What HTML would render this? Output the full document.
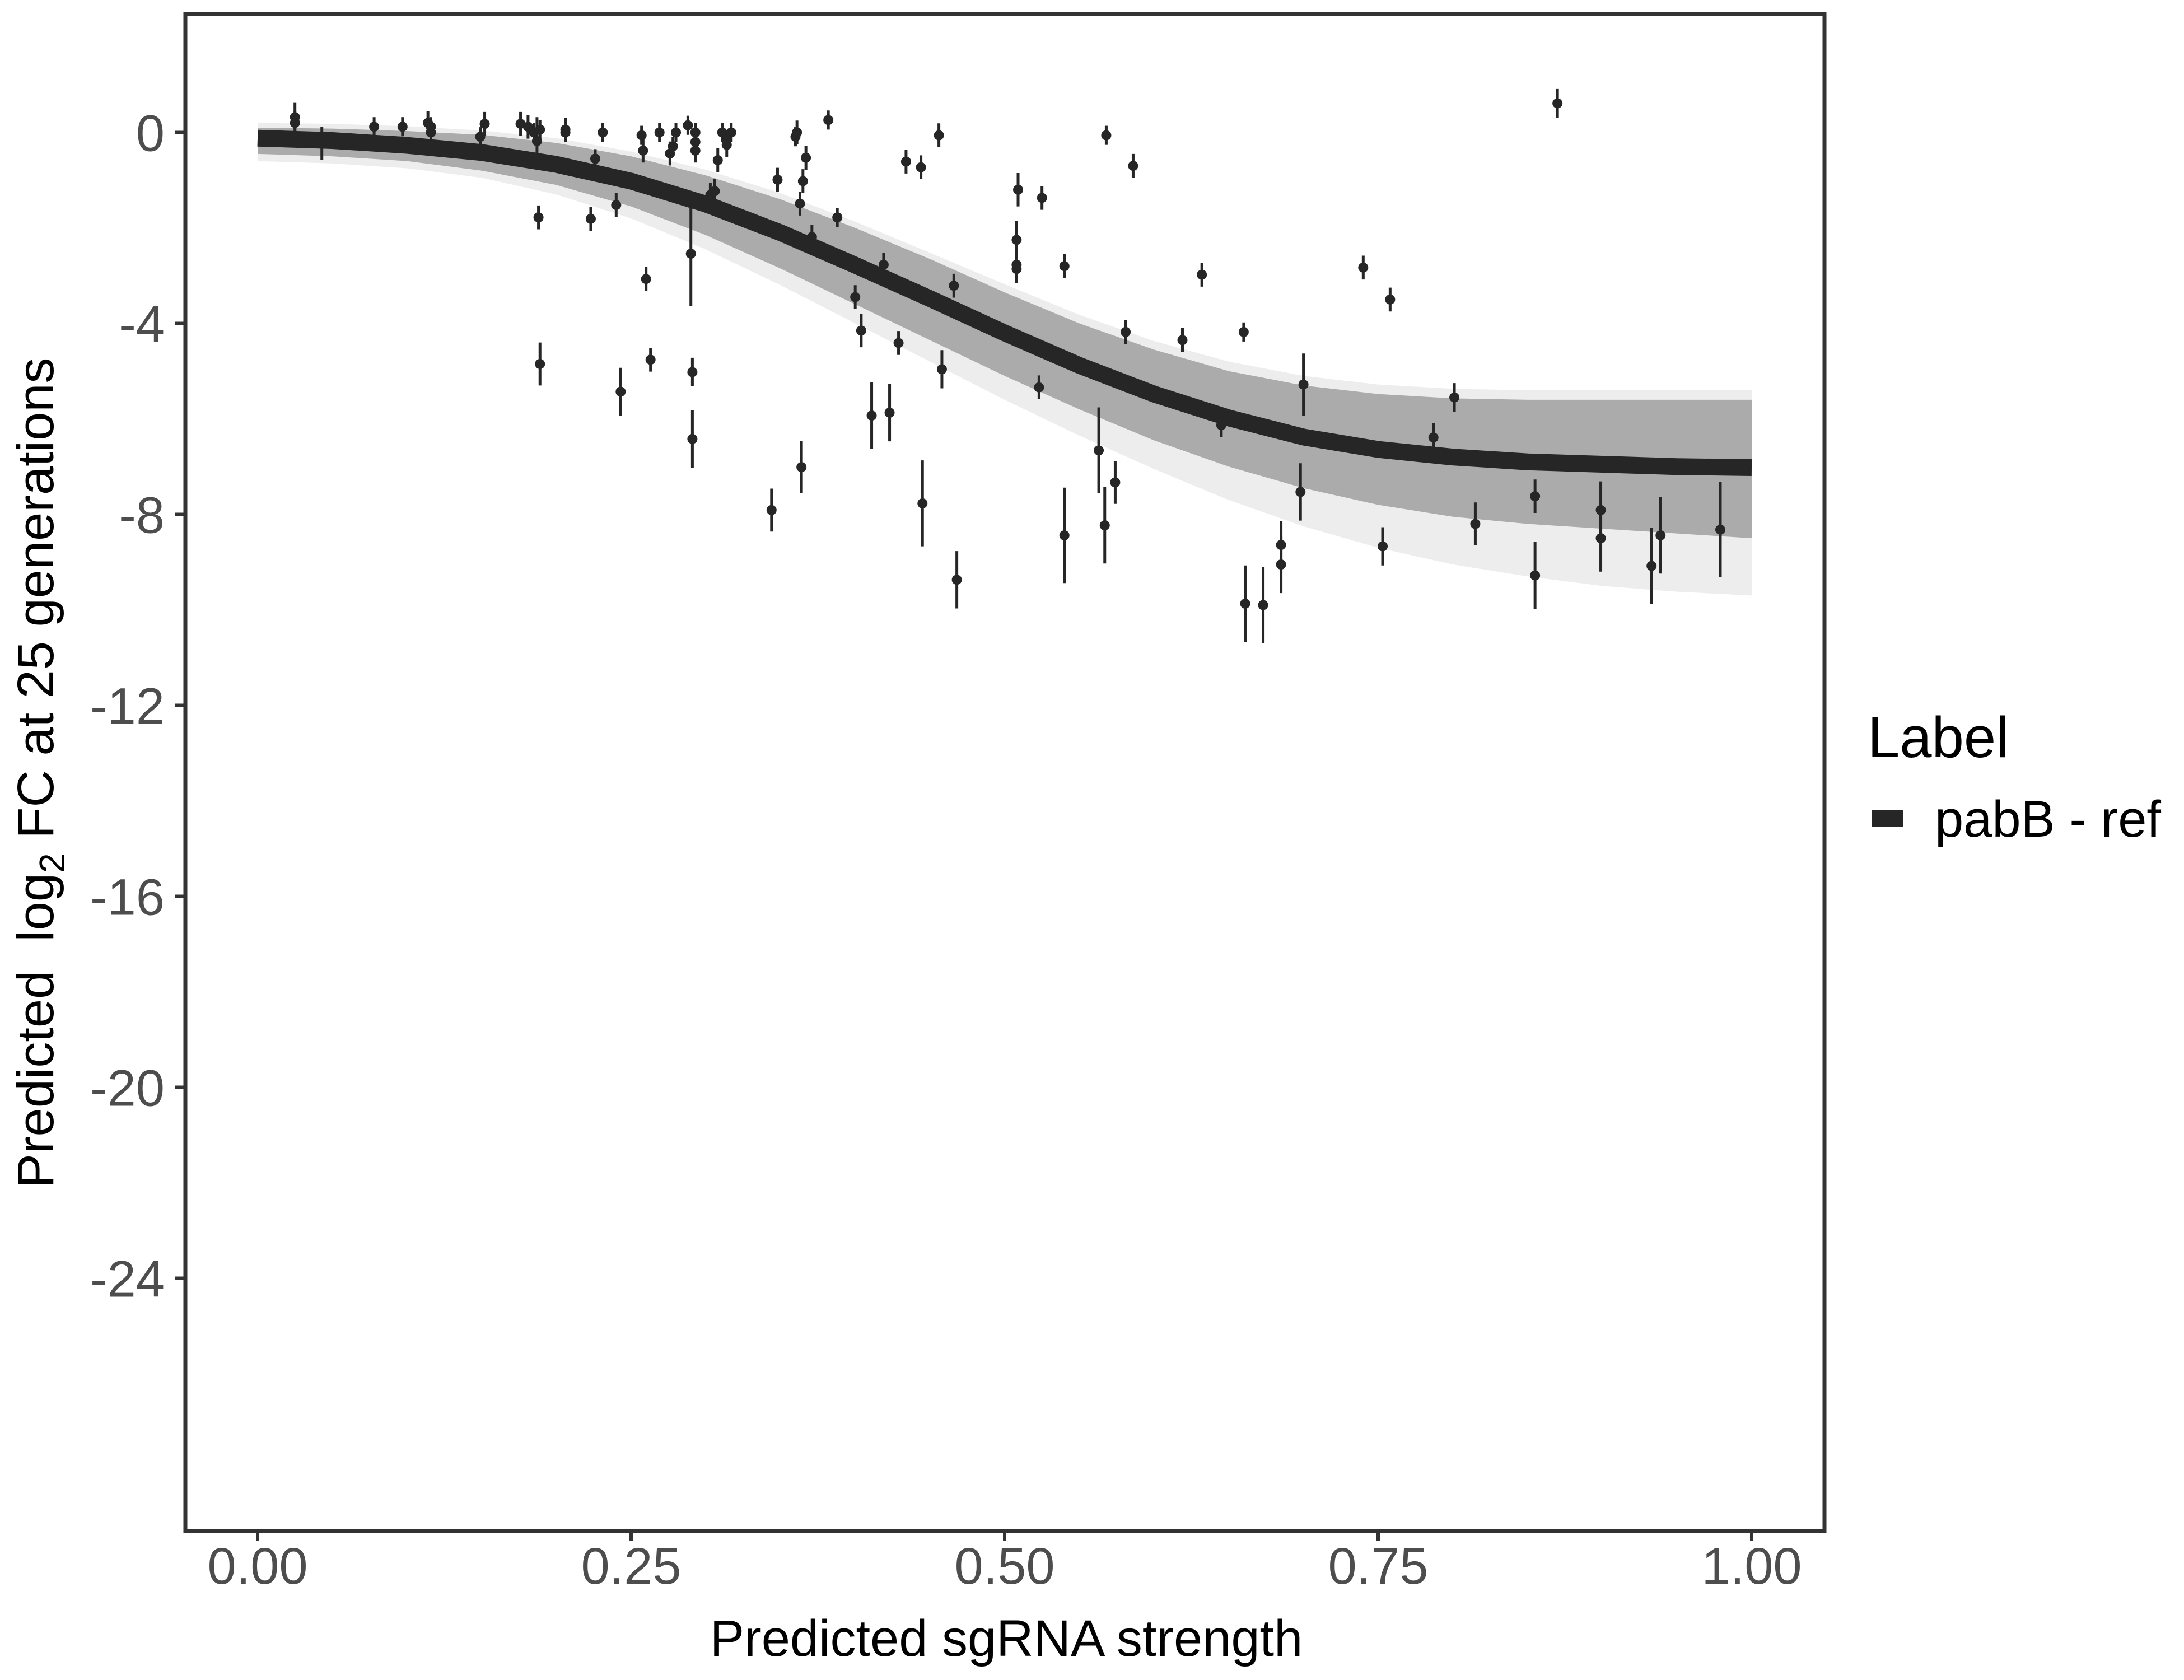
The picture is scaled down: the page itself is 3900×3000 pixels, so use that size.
<!DOCTYPE html>
<html><head><meta charset="utf-8"><style>
html,body{margin:0;padding:0;background:#fff;}
svg{display:block;font-family:"Liberation Sans",sans-serif;}
</style></head><body>
<svg id="chart" width="3900" height="3000" viewBox="0 0 3900 3000" xmlns="http://www.w3.org/2000/svg">
<rect x="0" y="0" width="3900" height="3000" fill="#fff"/>
<g id="plot"></g>
<rect x="331" y="25" width="2927" height="2709" fill="none" stroke="#333" stroke-width="7"/>
<g id="axes"></g>
<text x="1797" y="2957" font-size="92" text-anchor="middle" fill="#000">Predicted sgRNA strength</text>
<text transform="translate(95,1380) rotate(-90)" font-size="92" text-anchor="middle" fill="#000" style="white-space:pre">Predicted  log<tspan font-size="64" dy="20">2</tspan><tspan dy="-20"> FC at 25 generations</tspan></text>
<text x="3335" y="1352" font-size="103" fill="#000">Label</text>
<rect x="3343" y="1446" width="55" height="30" fill="#262626"/>
<text x="3455" y="1494" font-size="92" fill="#000">pabB - ref</text>
</svg>
<script>
const xTicks=[0,0.25,0.5,0.75,1];
const xTickLabels=["0.00","0.25","0.50","0.75","1.00"];
const yTicks=[0,-4,-8,-12,-16,-20,-24];
const yTickLabels=["0","-4","-8","-12","-16","-20","-24"];
const curveX=[0,0.05,0.1,0.15,0.2,0.25,0.3,0.35,0.4,0.45,0.5,0.55,0.6,0.65,0.7,0.75,0.8,0.85,0.9,0.95,1];
const curveY=[-0.12,-0.17,-0.27,-0.42,-0.67,-1.02,-1.5,-2.1,-2.78,-3.48,-4.2,-4.88,-5.48,-5.98,-6.38,-6.64,-6.8,-6.9,-6.95,-7.0,-7.02];
const bandUpper=[0.1,0.08,0.03,-0.05,-0.22,-0.5,-0.9,-1.4,-2.0,-2.65,-3.35,-4.0,-4.55,-5.0,-5.3,-5.48,-5.57,-5.6,-5.6,-5.6,-5.6];
const bandLower=[-0.45,-0.5,-0.6,-0.8,-1.1,-1.55,-2.15,-2.85,-3.6,-4.35,-5.1,-5.8,-6.45,-7.0,-7.45,-7.8,-8.05,-8.2,-8.3,-8.4,-8.5];
const bandOuterUpper=[0.2,0.18,0.13,0.04,-0.12,-0.4,-0.78,-1.27,-1.87,-2.52,-3.18,-3.82,-4.37,-4.8,-5.1,-5.28,-5.37,-5.4,-5.4,-5.4,-5.4];
const bandOuterLower=[-0.6,-0.65,-0.75,-0.95,-1.3,-1.8,-2.45,-3.2,-4.0,-4.8,-5.6,-6.35,-7.05,-7.7,-8.25,-8.7,-9.05,-9.3,-9.5,-9.62,-9.7];
const ptX=[0.025,0.025,0.043,0.078,0.097,0.114,0.116,0.116,0.149,0.152,0.176,0.181,0.185,0.187,0.188,0.189,0.189,0.206,0.206,0.223,0.226,0.231,0.240,0.243,0.257,0.258,0.260,0.263,0.269,0.276,0.278,0.280,0.288,0.290,0.291,0.291,0.293,0.293,0.293,0.303,0.306,0.308,0.311,0.314,0.314,0.317,0.344,0.348,0.360,0.361,0.363,0.364,0.365,0.367,0.371,0.382,0.388,0.400,0.404,0.411,0.419,0.423,0.429,0.434,0.444,0.445,0.456,0.458,0.466,0.468,0.508,0.508,0.508,0.509,0.525,0.523,0.540,0.540,0.563,0.567,0.568,0.574,0.581,0.586,0.619,0.632,0.645,0.660,0.661,0.673,0.685,0.685,0.698,0.700,0.740,0.753,0.758,0.787,0.801,0.815,0.855,0.855,0.870,0.899,0.899,0.933,0.939,0.979];
const ptY=[0.32,0.20,-0.23,0.12,0.12,0.20,0,0.12,-0.09,0.18,0.18,0.12,0,-0.18,-1.78,-4.85,0.06,0,0.06,-1.81,-0.55,0,-1.52,-5.43,-0.06,-0.38,-3.07,-4.76,0,-0.44,-0.29,0,0.15,-2.54,-5.02,-6.42,-0.38,-0.20,0,-1.31,-1.23,-0.58,0,-0.26,-0.15,0,-7.91,-0.99,-0.09,0,-1.49,-7.01,-1.02,-0.53,-2.19,0.26,-1.78,-3.45,-4.15,-5.93,-2.77,-5.87,-4.41,-0.61,-0.73,-7.77,-0.06,-4.96,-3.21,-9.37,-2.25,-2.77,-2.86,-1.20,-1.37,-5.34,-2.80,-8.44,-6.66,-8.23,-0.06,-7.33,-4.18,-0.70,-4.35,-2.98,-6.13,-4.18,-9.87,-9.90,-8.64,-9.05,-7.53,-5.28,-2.83,-8.67,-3.50,-6.39,-5.55,-8.20,-7.62,-9.28,0.61,-7.91,-8.50,-9.08,-8.44,-8.32];
const ptErr=[0.3,0.25,0.35,0.2,0.2,0.25,0.2,0.2,0.2,0.25,0.25,0.25,0.2,0.5,0.25,0.45,0.2,0.2,0.25,0.25,0.2,0.2,0.25,0.5,0.2,0.25,0.25,0.25,0.2,0.25,0.2,0.2,0.2,1.1,0.3,0.6,0.25,0.2,0.2,0.25,0.25,0.25,0.2,0.25,0.2,0.2,0.45,0.25,0.2,0.25,0.25,0.55,0.25,0.25,0.25,0.2,0.2,0.25,0.35,0.7,0.25,0.6,0.25,0.25,0.25,0.9,0.25,0.4,0.25,0.6,0.4,0.3,0.3,0.35,0.25,0.25,0.25,1.0,0.9,0.8,0.2,0.45,0.25,0.25,0.25,0.25,0.25,0.2,0.8,0.8,0.5,0.6,0.6,0.65,0.25,0.4,0.25,0.3,0.3,0.45,0.35,0.7,0.3,0.6,0.7,0.8,0.8,1.0];
const NS="http://www.w3.org/2000/svg";
const X0=460,X1=3128,Y0=236.5,PU=85.25;
const sx=v=>X0+v*(X1-X0);
const sy=v=>Y0-v*PU;
function mk(tag,attrs,parent){const e=document.createElementNS(NS,tag);for(const k in attrs)e.setAttribute(k,attrs[k]);parent.appendChild(e);return e;}
const plot=document.getElementById('plot');
const axes=document.getElementById('axes');
function bandPath(up,lo){let d='M'+curveX.map((x,i)=>sx(x)+','+sy(up[i])).join(' L');for(let i=curveX.length-1;i>=0;i--)d+=' L'+sx(curveX[i])+','+sy(lo[i]);return d+'Z';}
const outer=mk('path',{d:bandPath(bandOuterUpper,bandOuterLower),fill:'#ededed'},plot);


const band=mk('path',{d:bandPath(bandUpper,bandLower),fill:'#ababab'},plot);


const curve=mk('path',{d:'M'+curveX.map((x,i)=>sx(x)+','+sy(curveY[i])).join(' L'),fill:'none',stroke:'#262626','stroke-width':30,'stroke-linejoin':'round'},plot);


for(let i=0;i<ptX.length;i++){
  const g=mk('g',{},plot);
  
  
  mk('line',{x1:sx(ptX[i]),x2:sx(ptX[i]),y1:sy(ptY[i]+ptErr[i]),y2:sy(ptY[i]-ptErr[i]),stroke:'#262626','stroke-width':5},g);
  mk('circle',{cx:sx(ptX[i]),cy:sy(ptY[i]),r:9,fill:'#262626'},g);
}
xTicks.forEach((v,i)=>{
  const t=mk('line',{x1:sx(v),x2:sx(v),y1:2734,y2:2752,stroke:'#333','stroke-width':6},axes);
  
  
  const l=mk('text',{x:sx(v),y:2828,'font-size':92,'text-anchor':'middle',fill:'#4d4d4d'},axes);
  l.textContent=xTickLabels[i];
  
  
});
yTicks.forEach((v,i)=>{
  const t=mk('line',{x1:313,x2:331,y1:sy(v),y2:sy(v),stroke:'#333','stroke-width':6},axes);
  
  
  const l=mk('text',{x:294,y:sy(v)+33,'font-size':92,'text-anchor':'end',fill:'#4d4d4d'},axes);
  l.textContent=yTickLabels[i];
  
  
});
</script>
</body></html>
